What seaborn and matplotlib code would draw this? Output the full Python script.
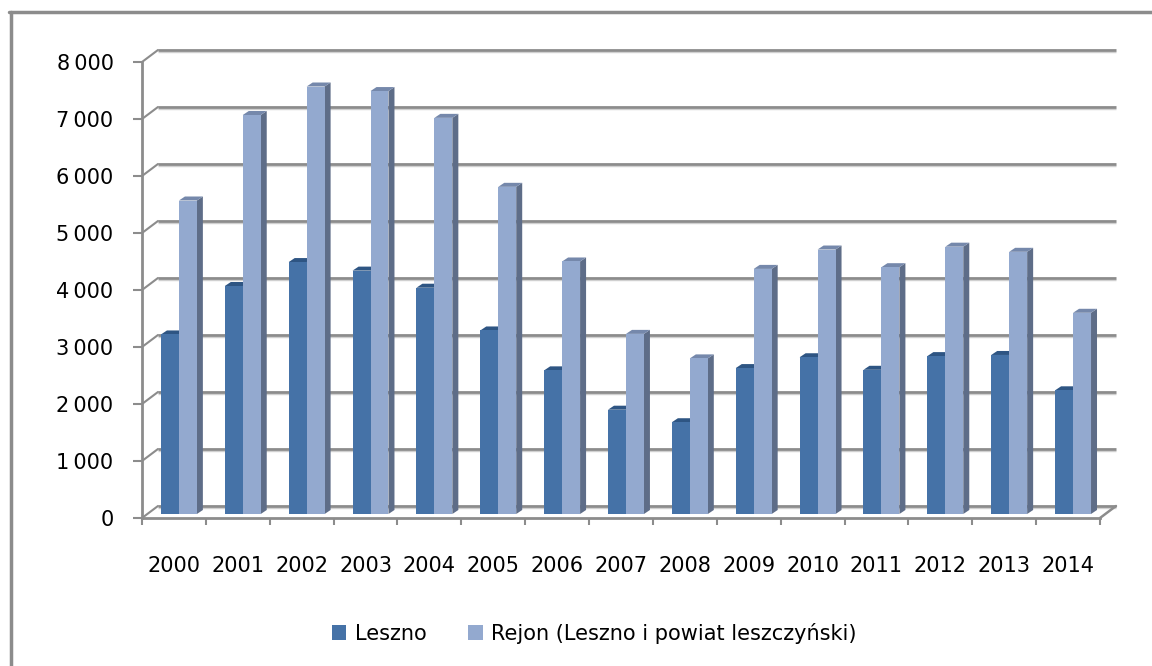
import numpy as np
import pandas as pd
import matplotlib
matplotlib.use("Agg")
import matplotlib.pyplot as plt
import seaborn as sns
from matplotlib.patches import Polygon, Patch
from matplotlib.lines import Line2D

# ---------------- data ----------------
years = ["2000", "2001", "2002", "2003", "2004", "2005", "2006", "2007",
         "2008", "2009", "2010", "2011", "2012", "2013", "2014"]
leszno = [3150, 4000, 4420, 4270, 3970, 3220, 2520, 1830, 1610, 2560,
          2750, 2530, 2770, 2790, 2170]
rejon = [5500, 7000, 7500, 7420, 6950, 5740, 4430, 3160, 2730, 4300,
         4640, 4330, 4690, 4600, 3530]
series_names = ["Leszno", "Rejon (Leszno i powiat leszczyński)"]
ytick_values = [0, 1000, 2000, 3000, 4000, 5000, 6000, 7000, 8000]
ytick_labels = ["0", "1\u2009000", "2\u2009000", "3\u2009000", "4\u2009000",
                "5\u2009000", "6\u2009000", "7\u2009000", "8\u2009000"]

df = pd.DataFrame({
    "Rok": years + years,
    "Seria": [series_names[0]] * len(years) + [series_names[1]] * len(years),
    "Wartość": leszno + rejon,
})

# ---------------- style ----------------
front_cols = ["#4572A7", "#93A9CF"]
side_cols = ["#34578A", "#5E6D88"]
top_cols = ["#2E5583", "#7588AB"]
grid_col = "#8c8c8c"

sns.set_theme(style="white")
plt.rcParams["font.family"] = ["DejaVu Sans"]
plt.rcParams["text.color"] = "black"
plt.rcParams["xtick.labelcolor"] = "black"
plt.rcParams["ytick.labelcolor"] = "black"

W, H = 1152, 666
fig = plt.figure(figsize=(W / 100, H / 100), dpi=100)
fig.patch.set_facecolor("white")
ax = fig.add_axes([142 / W, 1 - 518 / H, (1100 - 142) / W, (518 - 62) / H])

sns.barplot(data=df, x="Rok", y="Wartość", hue="Seria", palette=front_cols,
            width=0.5625, gap=0, saturation=1, ax=ax, legend=False,
            edgecolor="none", linewidth=0, zorder=3)

ax.set_xlim(-0.5, len(years) - 0.5)
ax.set_ylim(0, 8000)
ax.set_facecolor("white")

px_x = 1 / 64.0          # category units per pixel
px_y = 1000 / 57.0       # data units per pixel

# 3D back wall offsets
gdx, gdy = 16 * px_x, 12 * px_y
# bar depth-plane offset and bar depth
bdx, bdy = 5 * px_x, 4 * px_y
d, e = 6 * px_x, 4 * px_y

for i, cont in enumerate(ax.containers):
    for p in cont.patches:
        x = p.get_x() + bdx
        w = p.get_width()
        h = p.get_height()
        p.set_x(x)
        p.set_y(bdy)
        y0, y1 = bdy, bdy + h
        side = Polygon([(x + w, y0), (x + w + d, y0 + e), (x + w + d, y1 + e), (x + w, y1)],
                       closed=True, facecolor=side_cols[i], edgecolor="none", zorder=2)
        top = Polygon([(x, y1), (x + w, y1), (x + w + d, y1 + e), (x + d, y1 + e)],
                      closed=True, facecolor=top_cols[i], edgecolor="none", zorder=2)
        ax.add_patch(side)
        ax.add_patch(top)

# back wall gridlines and left diagonals
xl, xr = -0.5, len(years) - 0.5
for v in ytick_values:
    ax.plot([xl + gdx, xr + gdx], [v + gdy, v + gdy], color=grid_col, lw=2.0,
            zorder=1, clip_on=False, solid_capstyle="butt")
    ax.plot([xl + gdx, xr + gdx], [v + gdy - 1.5 * px_y] * 2, color="#d0d0d0", lw=1.0,
            zorder=0.9, clip_on=False, solid_capstyle="butt")
    ax.plot([xl, xl + gdx], [v, v + gdy], color=grid_col, lw=1.5, zorder=1, clip_on=False)
# floor right edge
ax.plot([xr, xr + gdx], [0, gdy], color=grid_col, lw=1.8, zorder=1, clip_on=False)

# spines
for s in ["top", "right"]:
    ax.spines[s].set_visible(False)
for s in ["left", "bottom"]:
    ax.spines[s].set_color(grid_col)
    ax.spines[s].set_linewidth(2.0)
    ax.spines[s].set_zorder(4)

# ticks
ax.set_yticks(ytick_values)
ax.set_yticklabels(ytick_labels)
ax.tick_params(axis="y", which="major", length=6.5, width=1.5, color=grid_col,
               direction="out", pad=14, labelsize=15, left=True, labelcolor="black")
ax.set_xticks(range(len(years)))
ax.set_xticklabels(years)
ax.set_xticks(np.arange(-0.5, len(years), 1.0), minor=True)
ax.tick_params(axis="x", which="major", length=0, pad=27, labelsize=15, labelcolor="black")
ax.tick_params(axis="x", which="minor", length=5, width=1.5, color=grid_col,
               direction="out", bottom=True)
ax.set_xlabel("")
ax.set_ylabel("")
ax.grid(False)

# legend
handles = [Patch(facecolor=front_cols[0], edgecolor="none"),
           Patch(facecolor=front_cols[1], edgecolor="none")]
leg = fig.legend(handles, series_names, loc="center", bbox_to_anchor=(594 / W, 1 - 633 / H),
                 ncol=2, frameon=False, fontsize=15, handlelength=0.7, handleheight=0.7,
                 handletextpad=0.4, columnspacing=2.0)
for t in leg.get_texts():
    t.set_color("black")

# outer frame (partially visible)
fig.add_artist(Line2D([10.5 / W, 10.5 / W], [0, 1 - 12 / H], transform=fig.transFigure,
                      color=grid_col, lw=2.5))
fig.add_artist(Line2D([9.3 / W, 1], [1 - 12 / H, 1 - 12 / H], transform=fig.transFigure,
                      color=grid_col, lw=2.5))

fig.savefig("out.png", dpi=100, facecolor="white")
